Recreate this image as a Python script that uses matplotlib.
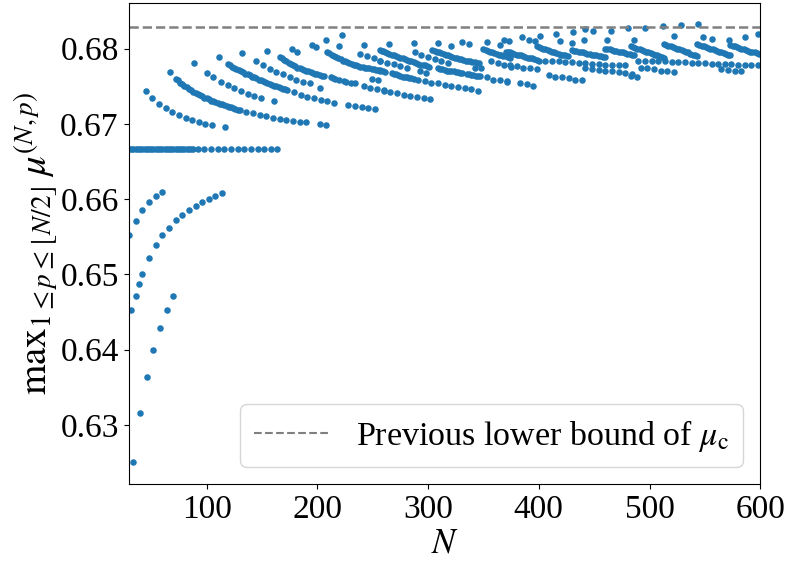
import matplotlib
matplotlib.use('Agg')
import matplotlib.pyplot as plt

plt.rcParams['font.family'] = 'Liberation Serif'
plt.rcParams['mathtext.fontset'] = 'stix'

# previous lower bound of mu_c (dashed line)
mu_prev = 0.6829

# ---- values, one list of N and one of max mu per arc ----
# lower left arcs
low_a_n = [30, 36, 42, 48, 54, 60]
low_a_v = [0.6552, 0.6571, 0.6586, 0.6596, 0.6604, 0.6610]
low_b_n = [32, 36, 39, 42, 48, 54, 60, 66, 72, 78, 84, 90, 96, 102, 108, 114]
low_b_v = [0.6452, 0.6471, 0.6487, 0.6500, 0.6522, 0.6539, 0.6552, 0.6562,
           0.6572, 0.6579, 0.6586, 0.6591, 0.6596, 0.6600, 0.6604, 0.6608]
low_c_n = [34, 40, 46, 52, 58, 64, 70]
low_c_v = [0.6250, 0.6316, 0.6364, 0.6400, 0.6429, 0.6452, 0.6471]

# flat run at 2/3
flat_n = list(range(30, 89, 2)) + [92, 98] + list(range(104, 165, 6))
flat_v = [0.6667] * len(flat_n)

# arcs for N < 260
arc_d_n = [45, 51, 57, 63, 69, 75, 81, 87, 93, 99, 105, 117]
arc_d_v = [0.6744, 0.6735, 0.6727, 0.6721, 0.6716, 0.6712, 0.6708, 0.6705,
           0.6703, 0.6700, 0.6699, 0.6696]

arc_e_n = [67] + list(range(72, 131, 2)) + list(range(136, 191, 6)) + [202, 208]
arc_e_v = [0.6769,
           0.6760, 0.6758, 0.6755, 0.6753, 0.6751, 0.6749, 0.6747, 0.6745,
           0.6743, 0.6741, 0.6740, 0.6738, 0.6737, 0.6735, 0.6734, 0.6733,
           0.6731, 0.6730, 0.6729, 0.6728, 0.6727, 0.6726, 0.6725, 0.6724,
           0.6723, 0.6722, 0.6721, 0.6720, 0.6719, 0.6719,
           0.6716, 0.6714, 0.6712, 0.6710, 0.6708, 0.6707, 0.6705, 0.6704,
           0.6703, 0.6702, 0.6700, 0.6699]

arc_f_n = [89, 100, 106, 113, 119, 125, 131, 137, 143, 149, 161, 111, 132]
arc_f_v = [0.6781, 0.6768, 0.6762, 0.6756, 0.6752, 0.6748, 0.6744, 0.6740,
           0.6737, 0.6735, 0.6730, 0.6789, 0.6794]

arc_g_n = list(range(119, 174, 2)) + [179, 185, 191, 197, 203, 209, 215,
                                      228, 234, 240, 246, 252]
arc_g_v = [0.6780, 0.6778, 0.6776, 0.6775, 0.6773, 0.6772, 0.6770, 0.6769,
           0.6767, 0.6766, 0.6765, 0.6763, 0.6762, 0.6761, 0.6759, 0.6758,
           0.6757, 0.6756, 0.6754, 0.6753, 0.6752, 0.6751, 0.6750, 0.6749,
           0.6748, 0.6747, 0.6746, 0.6745,
           0.6742, 0.6739, 0.6736, 0.6734, 0.6732, 0.6731, 0.6728,
           0.6725, 0.6724, 0.6722, 0.6721, 0.6720]

arc_h_n = [145, 151, 157, 163, 169, 175, 181, 187, 193]
arc_h_v = [0.6783, 0.6778, 0.6773, 0.6769, 0.6766, 0.6762, 0.6759, 0.6756, 0.6754]

arc_i_n = list(range(166, 207, 2)) + [212, 214, 216, 220, 224, 226, 230, 234,
                                      242, 248, 254, 260, 249, 255, 202]
arc_i_v = [0.6789, 0.6787, 0.6785, 0.6783, 0.6781, 0.6780, 0.6778, 0.6777,
           0.6775, 0.6774, 0.6773, 0.6772, 0.6771, 0.6770, 0.6769, 0.6768,
           0.6767, 0.6766, 0.6765, 0.6764, 0.6764,
           0.6762, 0.6761, 0.6760, 0.6759, 0.6757, 0.6756, 0.6755, 0.6754,
           0.6750, 0.6748, 0.6746, 0.6744, 0.6760, 0.6758, 0.6748]

arc_j_n = list(range(209, 260, 2)) + [239, 245, 251, 257]
arc_j_v = [0.6796, 0.6794, 0.6792, 0.6790, 0.6789, 0.6787, 0.6786, 0.6784,
           0.6783, 0.6782, 0.6781, 0.6780, 0.6779, 0.6778, 0.6777, 0.6776,
           0.6776, 0.6775, 0.6774, 0.6774, 0.6773, 0.6773, 0.6772, 0.6772,
           0.6772, 0.6771,
           0.6793, 0.6790, 0.6787, 0.6784]

# isolated high points
top_n = [155, 177, 182, 195, 199, 208, 220, 222, 242, 258, 265, 287, 309, 321,
         331, 337, 353, 365, 369, 373, 385, 391, 397, 401, 416, 419, 430, 431,
         441, 442, 449, 462, 465, 481, 486, 496, 512, 522, 528, 544, 548, 556,
         572, 586, 598]
top_v = [0.6797, 0.6800, 0.6795, 0.6805, 0.6802, 0.6811, 0.6804, 0.6818,
         0.6805, 0.6797, 0.6806, 0.6807, 0.6808, 0.6803, 0.6809, 0.6806,
         0.6809, 0.6805, 0.6812, 0.6810, 0.6815, 0.6812, 0.6810, 0.6817,
         0.6820, 0.6810, 0.6807, 0.6822, 0.6811, 0.6826, 0.6823, 0.6811,
         0.6823, 0.6827, 0.6812, 0.6828, 0.6830, 0.6817, 0.6831, 0.6833,
         0.6815, 0.6813, 0.6812, 0.6815, 0.6820]

# dense band, 256 <= N <= 375
mid_k_n = list(range(257, 302, 2)) + [257, 263, 269, 275, 281] + \
    [288, 294, 300, 306, 312, 318]
mid_k_v = [0.6798, 0.6797, 0.6795, 0.6794, 0.6793, 0.6792, 0.6791, 0.6790,
           0.6789, 0.6788, 0.6787, 0.6786, 0.6785, 0.6784, 0.6783, 0.6782,
           0.6781, 0.6780, 0.6779, 0.6778, 0.6778, 0.6777, 0.6776,
           0.6784, 0.6781, 0.6780, 0.6777, 0.6774,
           0.6795, 0.6792, 0.6789, 0.6786, 0.6784, 0.6781]

mid_l_n = list(range(304, 347, 2))
mid_l_v = [0.6798, 0.6797, 0.6796, 0.6795, 0.6794, 0.6793, 0.6792, 0.6791,
           0.6790, 0.6789, 0.6788, 0.6787, 0.6786, 0.6786, 0.6785, 0.6784,
           0.6784, 0.6783, 0.6782, 0.6782, 0.6781, 0.6781]

mid_low_n = [257, 261] + list(range(267, 288, 2)) + [293, 298] + \
    list(range(291, 346, 6)) + list(range(260, 303, 6)) + \
    list(range(309, 332, 2)) + list(range(335, 348, 2)) + [342, 348]
mid_low_v = [0.6771, 0.6769,
             0.6768, 0.6767, 0.6766, 0.6765, 0.6764, 0.6763, 0.6763, 0.6762,
             0.6761, 0.6761, 0.6760,
             0.6770, 0.6768,
             0.6758, 0.6757, 0.6755, 0.6754, 0.6752, 0.6751, 0.6749, 0.6748,
             0.6746, 0.6744,
             0.6745, 0.6743, 0.6741, 0.6739, 0.6737, 0.6736, 0.6735, 0.6733,
             0.6774, 0.6773, 0.6773, 0.6772, 0.6771, 0.6771, 0.6770, 0.6770,
             0.6769, 0.6769, 0.6768, 0.6768,
             0.6766, 0.6766, 0.6765, 0.6765, 0.6764, 0.6764, 0.6764,
             0.6774, 0.6774]

mid_m_n = list(range(350, 375, 2)) + [353, 359, 365, 371, 357, 363, 369, 375]
mid_m_v = [0.6799, 0.6798, 0.6797, 0.6796, 0.6795, 0.6794, 0.6793, 0.6792,
           0.6791, 0.6790, 0.6790, 0.6789, 0.6788,
           0.6762, 0.6759, 0.6758, 0.6756, 0.6783, 0.6781, 0.6779, 0.6776]

# dense band, 370 <= N <= 487
far_a_n = list(range(370, 399, 2)) + list(range(398, 427, 2))
far_a_v = [0.6796, 0.6795, 0.6795, 0.6794, 0.6793, 0.6792, 0.6791, 0.6791,
           0.6790, 0.6789, 0.6788, 0.6787, 0.6787, 0.6786, 0.6785,
           0.6803, 0.6802, 0.6801, 0.6800, 0.6799, 0.6798, 0.6797, 0.6796,
           0.6795, 0.6794, 0.6793, 0.6792, 0.6791, 0.6791, 0.6790]
far_b_n = list(range(430, 461, 2)) + list(range(460, 487, 2))
far_b_v = [0.6798, 0.6797, 0.6797, 0.6796, 0.6795, 0.6795, 0.6794, 0.6793,
           0.6793, 0.6792, 0.6791, 0.6791, 0.6790, 0.6790, 0.6789, 0.6789,
           0.6800, 0.6799, 0.6799, 0.6798, 0.6797, 0.6797, 0.6796, 0.6795,
           0.6795, 0.6794, 0.6793, 0.6793, 0.6792, 0.6792]
far_low_n = list(range(374, 399, 6)) + list(range(400, 481, 6)) + \
    list(range(442, 485, 6)) + list(range(409, 440, 6)) + [371, 383, 389, 395]
far_low_v = [0.6778, 0.6777, 0.6775, 0.6774, 0.6773,
             0.6784, 0.6784, 0.6783, 0.6783, 0.6782, 0.6782, 0.6781, 0.6781,
             0.6780, 0.6780, 0.6779, 0.6779, 0.6778, 0.6778,
             0.6774, 0.6773, 0.6772, 0.6771, 0.6770, 0.6769, 0.6768, 0.6767,
             0.6765, 0.6763, 0.6762, 0.6761, 0.6759, 0.6758,
             0.6757, 0.6754, 0.6753, 0.6751]

# dense band, N >= 483
end_a_n = list(range(483, 514, 2)) + list(range(513, 544, 2))
end_a_v = [0.6803, 0.6802, 0.6801, 0.6800, 0.6799, 0.6798, 0.6797, 0.6796,
           0.6795, 0.6794, 0.6793, 0.6792, 0.6791, 0.6790, 0.6789, 0.6788,
           0.6806, 0.6805, 0.6804, 0.6803, 0.6802, 0.6801, 0.6800, 0.6799,
           0.6798, 0.6797, 0.6796, 0.6795, 0.6793, 0.6792, 0.6791, 0.6790]
end_b_n = list(range(543, 574, 2)) + list(range(573, 600, 2))
end_b_v = [0.6806, 0.6805, 0.6804, 0.6803, 0.6802, 0.6801, 0.6800, 0.6799,
           0.6798, 0.6797, 0.6796, 0.6795, 0.6794, 0.6793, 0.6792, 0.6791,
           0.6805, 0.6804, 0.6803, 0.6802, 0.6801, 0.6800, 0.6799, 0.6798,
           0.6797, 0.6796, 0.6795, 0.6795, 0.6794, 0.6793]
end_low_n = [483, 489] + list(range(492, 523, 6)) + list(range(565, 584, 6)) + \
    list(range(490, 599, 6))
end_low_v = [0.6764, 0.6762,
             0.6775, 0.6774, 0.6773, 0.6771, 0.6770, 0.6769,
             0.6773, 0.6772, 0.6771, 0.6770,
             0.6784, 0.6784, 0.6783, 0.6783, 0.6783, 0.6782, 0.6782, 0.6782,
             0.6781, 0.6781, 0.6781, 0.6780, 0.6780, 0.6780, 0.6780, 0.6779,
             0.6779, 0.6779, 0.6779]

groups = [(low_a_n, low_a_v), (low_b_n, low_b_v), (low_c_n, low_c_v),
          (flat_n, flat_v), (arc_d_n, arc_d_v), (arc_e_n, arc_e_v),
          (arc_f_n, arc_f_v), (arc_g_n, arc_g_v), (arc_h_n, arc_h_v),
          (arc_i_n, arc_i_v), (arc_j_n, arc_j_v), (top_n, top_v),
          (mid_k_n, mid_k_v), (mid_l_n, mid_l_v), (mid_low_n, mid_low_v),
          (mid_m_n, mid_m_v), (far_a_n, far_a_v), (far_b_n, far_b_v),
          (far_low_n, far_low_v), (end_a_n, end_a_v), (end_b_n, end_b_v),
          (end_low_n, end_low_v)]

n_all = []
v_all = []
for n, v in groups:
    n_all += n
    v_all += v

fig, ax = plt.subplots(figsize=(7.87, 5.65), dpi=100)
fig.subplots_adjust(left=0.164, right=0.966, top=0.995, bottom=0.143)

ax.scatter(n_all, v_all, s=22, color='#1f77b4', linewidths=0, zorder=2)
ax.axhline(mu_prev, color='gray', ls='--', lw=1.8,
           label=r'Previous lower bound of $\mu_\mathrm{c}$')

ax.set_xlim(30, 600)
ax.set_ylim(0.6221, 0.6861)
ax.set_xticks([100, 200, 300, 400, 500, 600])
ax.set_yticks([0.63, 0.64, 0.65, 0.66, 0.67, 0.68])
ax.tick_params(labelsize=24, pad=4)
ax.set_xlabel(r'$N$', fontsize=25, labelpad=2)
ax.set_ylabel(r'$\mathrm{max}_{1\leq p\leq \lfloor N/2\rfloor}\,\mu^{(N,p)}$',
              fontsize=28, labelpad=0)
leg = ax.legend(loc='lower right', fontsize=24.5, handlelength=2.2,
                borderaxespad=0.5)
leg.get_lines()[0].set_linewidth(1.5)

plt.savefig('out.png', dpi=100)
